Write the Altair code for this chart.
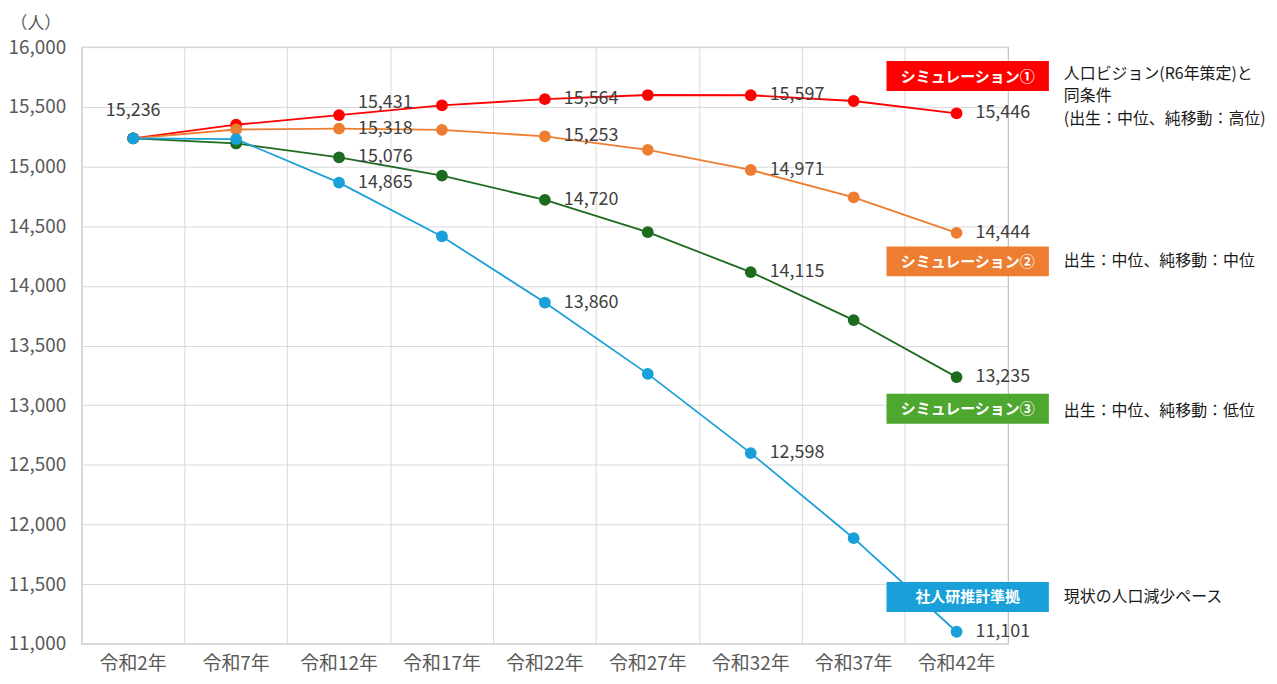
import altair as alt
import pandas as pd

years = ["令和2年", "令和7年", "令和12年", "令和17年", "令和22年",
         "令和27年", "令和32年", "令和37年", "令和42年"]
sim1 = [15236, 15350, 15431, 15513, 15564, 15599, 15597, 15549, 15446]
sim2 = [15236, 15310, 15318, 15307, 15253, 15140, 14971, 14742, 14444]
sim3 = [15236, 15193, 15076, 14923, 14720, 14450, 14115, 13713, 13235]
ipss = [15236, 15230, 14865, 14414, 13860, 13262, 12598, 11885, 11101]

series_names = ["シミュレーション①", "シミュレーション②", "シミュレーション③", "社人研推計準拠"]
line_colors = ["#FF0000", "#ED7D31", "#1D6B1F", "#1AA0D8"]
box_colors = ["#FF0000", "#ED7D31", "#4EA72E", "#1AA0D8"]
descriptions = [
    ["人口ビジョン(R6年策定)と", "同条件", "(出生：中位、純移動：高位)"],
    ["出生：中位、純移動：中位"],
    ["出生：中位、純移動：低位"],
    ["現状の人口減少ペース"],
]
labelled_years = ["令和12年", "令和22年", "令和32年", "令和42年"]
y_ticks = list(range(11000, 16001, 500))

rows = []
for order, (name, vals) in enumerate(zip(series_names, [sim1, sim2, sim3, ipss])):
    for yr, v in zip(years, vals):
        rows.append({"year": yr, "series": name, "value": v, "order": order})
df = pd.DataFrame(rows)

W, H = 930, 599
FONT = "Noto Sans CJK JP"

x_enc = alt.X("year:N", sort=years, bandPosition=0.5,
              scale=alt.Scale(type="band", paddingInner=0, paddingOuter=0),
              axis=alt.Axis(title=None, bandPosition=0,
                            ticks=False, domain=False, grid=True,
                            gridColor="#D9D9D9", labelFontSize=19,
                            labelColor="#595959", labelPadding=11,
                            labelAngle=0))
y_enc = alt.Y("value:Q",
              scale=alt.Scale(domain=[11000, 16000], nice=False, zero=False),
              axis=alt.Axis(values=y_ticks, format=",.0f", ticks=False, domain=False,
                            grid=True, gridColor="#D9D9D9", labelFontSize=19,
                            labelColor="#595959", labelPadding=16,
                            title="（人）", titleAngle=0, titleX=-72, titleY=-24,
                            titleAlign="left", titleBaseline="middle",
                            titleFontSize=17, titleFontWeight="normal",
                            titleColor="#595959"))
color_enc = alt.Color("series:N", scale=alt.Scale(domain=series_names, range=line_colors),
                      legend=None)

base = alt.Chart(df)
lines = base.mark_line(strokeWidth=1.8).encode(x=x_enc, y=y_enc, color=color_enc,
                                               order="order:Q")
layers = [lines]
for name in series_names:
    layers.append(base.transform_filter(alt.datum.series == name)
                  .mark_point(filled=True, size=140, opacity=1)
                  .encode(x=x_enc, y=y_enc, color=color_enc))

lab_kw = dict(fontSize=18, color="#404040", font=FONT, align="left", baseline="middle", dx=19)
normal = (alt.FieldOneOfPredicate(field="year", oneOf=labelled_years))
special = (alt.datum.series == series_names[0]) & (alt.datum.year == "令和12年")
layers.append(base.transform_filter(normal).transform_filter(~special)
              .mark_text(**lab_kw)
              .encode(x=x_enc, y=y_enc, text=alt.Text("value:Q", format=",")))
layers.append(base.transform_filter(special)
              .mark_text(**{**lab_kw, "dy": -12})
              .encode(x=x_enc, y=y_enc, text=alt.Text("value:Q", format=",")))
layers.append(base.transform_filter((alt.datum.year == years[0]) &
                                    (alt.datum.series == series_names[-1]))
              .mark_text(fontSize=18, color="#404040", font=FONT, align="center",
                         baseline="middle", dy=-27)
              .encode(x=x_enc, y=y_enc, text=alt.Text("value:Q", format=",")))

# annotation boxes (pixel positions relative to plot origin)
box_x0, box_x1 = 808, 971
box_tops = [14, 200, 348, 537]
box_h = 30
desc_x = 986
desc_centers = [[27, 49.5, 72], [215], [365], [552]]
dummy = pd.DataFrame({"k": [0]})
for name, bc, top, descs, centers in zip(series_names, box_colors, box_tops,
                                         descriptions, desc_centers):
    layers.append(alt.Chart(dummy).mark_rect(color=bc).encode(
        x=alt.value(box_x0), x2=alt.value(box_x1),
        y=alt.value(top), y2=alt.value(top + box_h)))
    layers.append(alt.Chart(dummy).mark_text(
        color="white", fontSize=15, fontWeight="bold", font=FONT,
        align="center", baseline="middle").encode(
        x=alt.value((box_x0 + box_x1) / 2), y=alt.value(top + box_h / 2 + 0.5),
        text=alt.value(name)))
    for line, cy in zip(descs, centers):
        layers.append(alt.Chart(dummy).mark_text(
            color="#1A1A1A", fontSize=16, font=FONT, align="left",
            baseline="middle").encode(
            x=alt.value(desc_x), y=alt.value(cy), text=alt.value(line)))

chart = alt.layer(*layers).properties(
    width=W, height=H,
    autosize=alt.AutoSizeParams(type="none"),
    padding={"left": 74, "top": 38, "right": 262, "bottom": 32},
).configure(font=FONT).configure_view(stroke="#BFBFBF", strokeWidth=1.2)

chart.save("out.html", embed_options={"renderer": "svg", "actions": False})
